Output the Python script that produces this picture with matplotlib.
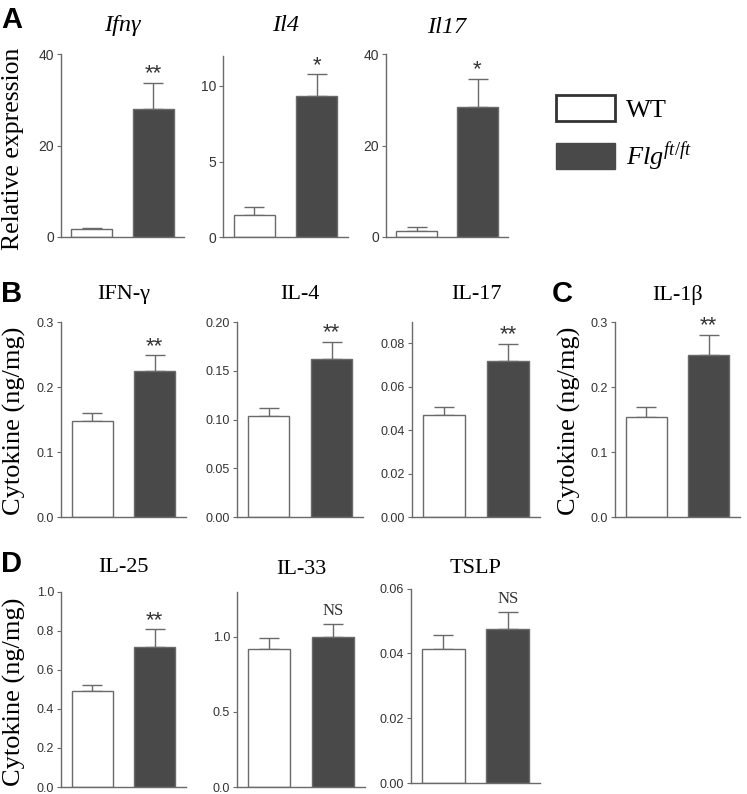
import numpy as np
import matplotlib
matplotlib.use('Agg')
import matplotlib.pyplot as plt
import matplotlib.patches as mpatches

plt.rcParams['mathtext.fontset'] = 'custom'
plt.rcParams['mathtext.it'] = 'Liberation Serif:italic'
plt.rcParams['mathtext.rm'] = 'Liberation Serif'

W, H = 747, 794
SERIF = 'Liberation Serif'
SANS = 'Liberation Sans'
DARK = '#494949'
GRAY = '#6a6a6a'

# data (WT, Flg ft/ft)
groups = ['WT', 'Flg']
ifng_mean = [1.8, 28.0]
ifng_err = [0.2, 5.7]
il4_mean = [1.5, 9.36]
il4_err = [0.48, 1.41]
il17_mean = [1.25, 28.5]
il17_err = [1.0, 6.1]
ifn_prot_mean = [0.148, 0.225]
ifn_prot_err = [0.012, 0.024]
il4_prot_mean = [0.104, 0.162]
il4_prot_err = [0.008, 0.018]
il17_prot_mean = [0.047, 0.072]
il17_prot_err = [0.0035, 0.0077]
il1b_mean = [0.154, 0.249]
il1b_err = [0.015, 0.031]
il25_mean = [0.493, 0.715]
il25_err = [0.028, 0.092]
il33_mean = [0.916, 1.0]
il33_err = [0.079, 0.082]
tslp_mean = [0.0415, 0.0475]
tslp_err = [0.0042, 0.0052]

titles = ['Ifnγ', 'Il4', 'Il17', 'IFN-γ', 'IL-4', 'IL-17', 'IL-1β', 'IL-25', 'IL-33', 'TSLP']
signif = ['**', '*', '*', '**', '**', '**', '**', '**', 'NS', 'NS']
yticks = [[0, 20, 40], [0, 5, 10], [0, 20, 40],
          [0, 0.1, 0.2, 0.3], [0, 0.05, 0.10, 0.15, 0.20], [0, 0.02, 0.04, 0.06, 0.08],
          [0, 0.1, 0.2, 0.3], [0, 0.2, 0.4, 0.6, 0.8, 1.0], [0, 0.5, 1.0], [0, 0.02, 0.04, 0.06]]
ylims = [40, 12, 40, 0.3, 0.2, 0.09, 0.3, 1.0, 1.3, 0.06]
fmts = ['%d', '%d', '%d', '%.1f', '%.2f', '%.2f', '%.1f', '%.1f', '%.1f', '%.2f']

means = [ifng_mean, il4_mean, il17_mean, ifn_prot_mean, il4_prot_mean, il17_prot_mean,
         il1b_mean, il25_mean, il33_mean, tslp_mean]
errs = [ifng_err, il4_err, il17_err, ifn_prot_err, il4_prot_err, il17_prot_err,
        il1b_err, il25_err, il33_err, tslp_err]

# axes boxes in pixels: left, top, right, bottom ; title baseline
boxes = [(61, 54, 184, 237), (223, 55.7, 348, 237.3), (386, 54, 508, 237),
         (61, 322.3, 186, 517), (237, 322.3, 363, 517), (412, 321.7, 540, 517),
         (615, 322.3, 740, 517),
         (61, 591.7, 186, 787), (237, 591.7, 365, 787), (411, 588.7, 540, 783)]
title_base = [31, 31, 33, 299, 299, 299, 300, 572, 574, 573]

fig = plt.figure(figsize=(W / 100, H / 100), dpi=100)

for i in range(10):
    l, t, r, b = boxes[i]
    ax = fig.add_axes([l / W, 1 - b / H, (r - l) / W, (b - t) / H])
    x = np.arange(2)
    ax.errorbar(x, means[i], yerr=[[0, 0], errs[i]], fmt='none', ecolor=GRAY,
                elinewidth=1, capsize=7, capthick=1, zorder=1)
    ax.bar(x, means[i], width=0.66, color=['white', DARK], edgecolor=GRAY,
           linewidth=1, zorder=2)
    ax.set_xlim(-0.5, 1.5)
    ax.set_ylim(0, ylims[i])
    ax.set_xticks([])
    ax.set_yticks(yticks[i])
    ax.set_yticklabels([fmts[i] % v for v in yticks[i]], family=SANS)
    ax.tick_params(axis='y', length=3, width=0.8, color=GRAY, labelcolor='#333333',
                   labelsize=10 if i < 3 else 9, pad=2)
    for s in ['top', 'right']:
        ax.spines[s].set_visible(False)
    for s in ['left', 'bottom']:
        ax.spines[s].set_color(GRAY)
        ax.spines[s].set_linewidth(1)
    ax.set_title(titles[i], family=SERIF, fontsize=17.5 if i < 3 else 16,
                 style='italic' if i < 3 else 'normal', pad=(t - title_base[i]) * 0.72)
    if signif[i] == 'NS':
        ax.annotate('NS', xy=(1, means[i][1] + errs[i][1]), xytext=(0, 4),
                    textcoords='offset points', ha='center', va='bottom',
                    family=SERIF, fontsize=12, color='#333333', annotation_clip=False)
    else:
        ax.annotate(signif[i], xy=(1, means[i][1] + errs[i][1]), xytext=(0, -1),
                    textcoords='offset points', ha='center', va='bottom',
                    family=SANS, fontsize=16, color='#333333', annotation_clip=False)

# panel letters
for lab, px, py in [('A', 1, 6), ('B', 1, 280), ('C', 552, 280), ('D', 1, 550)]:
    fig.text(px / W, 1 - py / H, lab, family=SANS, weight='bold', fontsize=21,
             ha='left', va='top')

# y labels
fig.text(13 / W, 1 - 149 / H, 'Relative expression', family=SERIF, fontsize=18.5,
         rotation=90, ha='center', va='center')
for cx, cy in [(14, 421), (569, 421), (14, 692)]:
    fig.text(cx / W, 1 - cy / H, 'Cytokine (ng/mg)', family=SERIF, fontsize=19,
             rotation=90, ha='center', va='center')

# legend
handles = [mpatches.Patch(facecolor='white', edgecolor='#333333', linewidth=2),
           mpatches.Patch(facecolor=DARK, edgecolor=DARK, linewidth=1)]
fig.legend(handles, ['WT', r'$Flg^{ft/ft}$'], loc='upper left',
           bbox_to_anchor=(556 / W, 1 - 95 / H), frameon=False,
           prop={'family': SERIF, 'size': 19}, handlelength=2.25, handleheight=1.15,
           labelspacing=0.7, handletextpad=0.4, borderpad=0, borderaxespad=0)

fig.savefig('out.png', dpi=100)
